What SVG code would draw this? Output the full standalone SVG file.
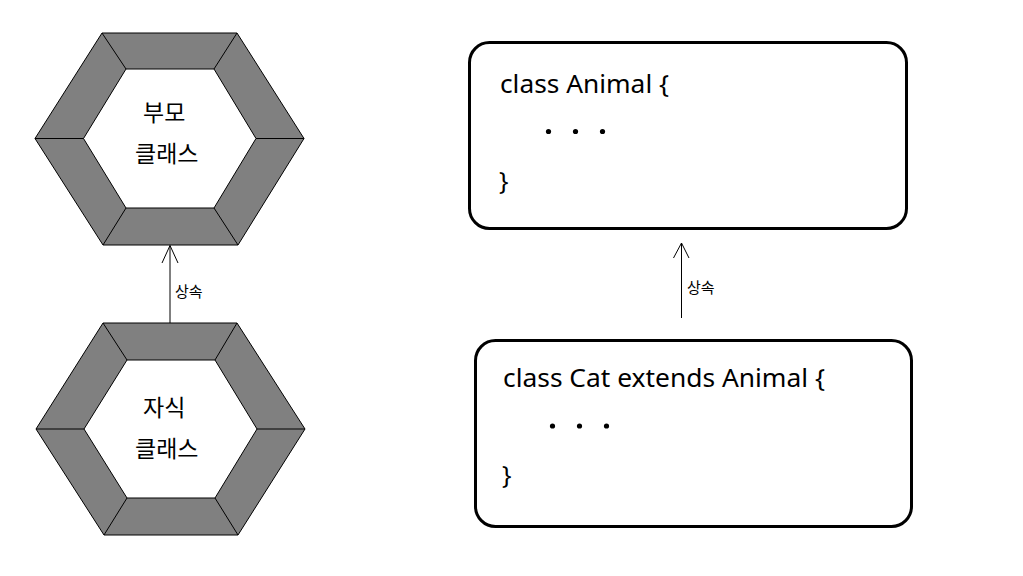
<svg xmlns="http://www.w3.org/2000/svg" width="1023" height="576" viewBox="0 0 1023 576">
<style>
.hexo{fill:#808080;stroke:#000;stroke-width:1}
.hexi{fill:#fff;stroke:#000;stroke-width:1}
.sp{stroke:#000;stroke-width:1}
.kr{font-family:"Noto Sans CJK KR","Noto Sans",sans-serif;font-size:23px;fill:#000}
.lbl{font-family:"Noto Sans CJK KR","Noto Sans",sans-serif;font-size:15px;fill:#000}
.code{font-family:"Noto Sans","Noto Sans CJK KR",sans-serif;font-size:25px;fill:#000}
.box{fill:#fff;stroke:#000;stroke-width:3}
.conn{stroke:#000;stroke-width:1;fill:none}
</style>
<rect width="1023" height="576" fill="#fff"/>
<g id="parent-hex">
<polygon class="hexo" points="102,33 237,33 304,138.5 238,245 103,245 35,138.5"/>
<polygon class="hexi" points="126,69 214,69 256,138.5 214,208 126,208 83.5,138.5"/>
<line class="sp" x1="102" y1="33" x2="126" y2="69"/>
<line class="sp" x1="237" y1="33" x2="214" y2="69"/>
<line class="sp" x1="304" y1="138.5" x2="256" y2="138.5"/>
<line class="sp" x1="238" y1="245" x2="214" y2="208"/>
<line class="sp" x1="103" y1="245" x2="126" y2="208"/>
<line class="sp" x1="35" y1="138.5" x2="83.5" y2="138.5"/>
<text class="kr" x="143" y="121">부모</text>
<text class="kr" x="135" y="162">클래스</text>
</g>
<g id="child-hex">
<polygon class="hexo" points="103,323 237,323 305,429 238,535 104,535 36,429"/>
<polygon class="hexi" points="127,360 215,360 257,429 215,498 127,498 84,429"/>
<line class="sp" x1="103" y1="323" x2="127" y2="360"/>
<line class="sp" x1="237" y1="323" x2="215" y2="360"/>
<line class="sp" x1="305" y1="429" x2="257" y2="429"/>
<line class="sp" x1="238" y1="535" x2="215" y2="498"/>
<line class="sp" x1="104" y1="535" x2="127" y2="498"/>
<line class="sp" x1="36" y1="429" x2="84" y2="429"/>
<text class="kr" x="143" y="416">자식</text>
<text class="kr" x="135" y="457">클래스</text>
</g>
<g id="animal-box">
<rect class="box" x="469.5" y="42.5" width="437" height="186" rx="20" ry="20"/>
<text class="code" x="500" y="93" textLength="169" lengthAdjust="spacingAndGlyphs">class Animal {</text>
<circle cx="548.5" cy="131.5" r="2.6"/>
<circle cx="575.5" cy="131.5" r="2.6"/>
<circle cx="602.5" cy="131.5" r="2.6"/>
<text class="code" x="499" y="190">}</text>
</g>
<g id="cat-box">
<rect class="box" x="475.5" y="340.5" width="436" height="186" rx="20" ry="20"/>
<text class="code" x="503" y="387" textLength="322" lengthAdjust="spacingAndGlyphs">class Cat extends Animal {</text>
<circle cx="552.5" cy="426" r="2.6"/>
<circle cx="579.5" cy="426" r="2.6"/>
<circle cx="606.5" cy="426" r="2.6"/>
<text class="code" x="502" y="484">}</text>
</g>
<g id="connectors">
<line class="conn" x1="170" y1="245.5" x2="170" y2="323"/>
<polyline class="conn" points="162,263 170,245.5 178,263"/>
<text class="lbl" x="175" y="297">상속</text>
<line class="conn" x1="681.5" y1="243" x2="681.5" y2="318"/>
<polyline class="conn" points="673.5,258 681.5,243 689,258"/>
<text class="lbl" x="687" y="293">상속</text>
</g>
</svg>
